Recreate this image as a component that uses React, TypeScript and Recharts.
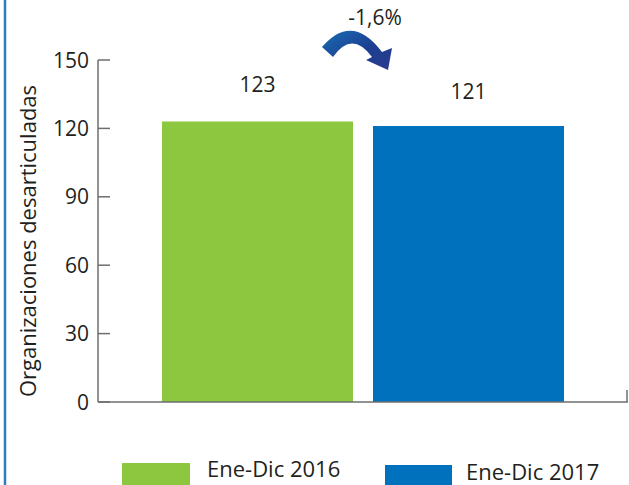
import React from "react";
import { BarChart, Bar, XAxis, YAxis, LabelList } from "recharts";

const categories = ["Ene-Dic"];
const seriesNames = ["Ene-Dic 2016", "Ene-Dic 2017"];
const values2016 = [123];
const values2017 = [121];
const yTicks = [0, 30, 60, 90, 120, 150];
const changeLabel = "-1,6%";
const yAxisTitle = "Organizaciones desarticuladas";

const GREEN = "#8dc63f";
const BLUE = "#0071bc";
const AXIS = "#6d6e71";
const TEXT = "#231f20";
const FONT = "'Open Sans', sans-serif";

const data = categories.map((c, i) => ({ cat: c, a: values2016[i], b: values2017[i] }));

const YTick = (props: any) => {
  const { x, y, payload } = props;
  return (
    <g>
      <line x1={x} y1={y} x2={x + 12} y2={y} stroke={AXIS} strokeWidth={1.5} />
      <text x={x - 9} y={y} dy="0.36em" textAnchor="end" fontSize={21} fill={TEXT} fontFamily={FONT}>
        {payload.value}
      </text>
    </g>
  );
};

export default function App() {
  return (
    <div style={{ position: "absolute", left: 0, top: 0, width: 629, height: 485, overflow: "hidden", background: "#fff", fontFamily: FONT }}>
      <BarChart
        width={629}
        height={485}
        data={data}
        margin={{ top: 60, right: 1, bottom: 53, left: 0 }}
        barCategoryGap={63}
        barGap={20}
      >
        <XAxis dataKey="cat" tick={false} tickLine={false} axisLine={{ stroke: AXIS, strokeWidth: 1.5 }} height={30} />
        <YAxis
          domain={[0, 150]}
          ticks={yTicks}
          width={98}
          tickSize={0}
          tickMargin={0}
          tickLine={false}
          axisLine={{ stroke: AXIS, strokeWidth: 1.5 }}
          tick={<YTick />}
          interval={0}
        />
        <Bar dataKey="a" name={seriesNames[0]} fill={GREEN} barSize={191} isAnimationActive={false}>
          <LabelList dataKey="a" position="top" offset={30} fontSize={21} fill={TEXT} fontFamily={FONT} />
        </Bar>
        <Bar dataKey="b" name={seriesNames[1]} fill={BLUE} barSize={191} isAnimationActive={false}>
          <LabelList dataKey="b" position="top" offset={27} fontSize={21} fill={TEXT} fontFamily={FONT} />
        </Bar>
      </BarChart>
      <svg width={629} height={485} style={{ position: "absolute", left: 0, top: 0, pointerEvents: "none" }}>
        <defs>
          <linearGradient id="arrowGrad" x1="0" y1="0" x2="1" y2="1">
            <stop offset="0%" stopColor="#1a6db3" />
            <stop offset="55%" stopColor="#1c3f91" />
            <stop offset="100%" stopColor="#2b3a8e" />
          </linearGradient>
        </defs>
        <line x1={5} y1={0} x2={5} y2={485} stroke="#2a7fc1" strokeWidth={2.5} />
        <line x1={627} y1={402} x2={627} y2={390} stroke={AXIS} strokeWidth={1.5} />
        <text
          x={28}
          y={241}
          transform="rotate(-90 28 241)"
          textAnchor="middle"
          dy="0.36em"
          fontSize={22}
          fill={TEXT}
          fontFamily={FONT}
        >
          {yAxisTitle}
        </text>
        <path
          d="M 322 47 Q 352 12 382 52 L 392 48 L 388 70 L 366 60 L 372 57 Q 352 30 333 57 Z"
          fill="url(#arrowGrad)"
        />
        <text x={375} y={17} dy="0.36em" textAnchor="middle" fontSize={21} fill={TEXT} fontFamily={FONT}>
          {changeLabel}
        </text>
      </svg>
      <div style={{ position: "absolute", left: 122, top: 463, width: 68, height: 30, background: GREEN }} />
      <div style={{ position: "absolute", left: 207, top: 453, fontSize: 22, color: TEXT, lineHeight: "30px", whiteSpace: "nowrap" }}>
        {seriesNames[0]}
      </div>
      <div style={{ position: "absolute", left: 385, top: 465, width: 67, height: 30, background: BLUE }} />
      <div style={{ position: "absolute", left: 466, top: 456, fontSize: 22, color: TEXT, lineHeight: "30px", whiteSpace: "nowrap" }}>
        {seriesNames[1]}
      </div>
    </div>
  );
}
